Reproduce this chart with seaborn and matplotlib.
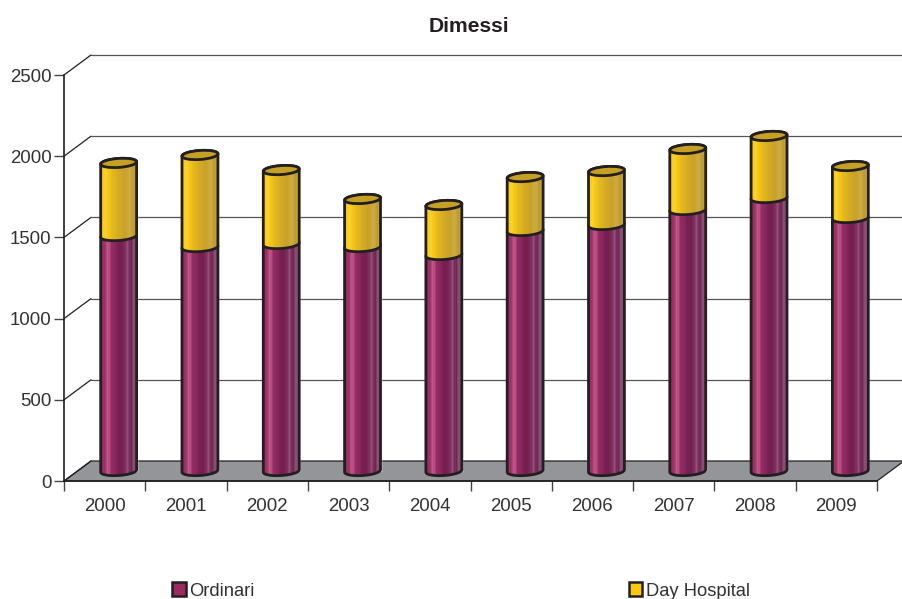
import matplotlib
matplotlib.use("Agg")
import matplotlib.pyplot as plt
from matplotlib.colors import LinearSegmentedColormap
from matplotlib.patches import Ellipse, Patch, PathPatch, Polygon
from matplotlib.path import Path
from matplotlib.transforms import Affine2D, IdentityTransform

import numpy as np
import pandas as pd
import seaborn as sns

# Values
years = ["2000", "2001", "2002", "2003", "2004", "2005", "2006", "2007", "2008", "2009"]
ordinari = [1447, 1379, 1398, 1379, 1330, 1478, 1515, 1607, 1681, 1558]
day_hospital = [450, 567, 455, 296, 308, 332, 332, 376, 382, 320]
y_ticks = [0, 500, 1000, 1500, 2000, 2500]

sns.set_theme(style="ticks")
plt.rcParams["font.family"] = ["Liberation Sans", "DejaVu Sans"]

INK = "#231f20"
TEXT = "#333132"
WIDTH, HEIGHT = 902, 599
DEPTH_X, DEPTH_Y = 27, 20
SHIFT_X, SHIFT_Y = 14, 10
ELLIPSE_H, TILT = 9, 4

maroon_map = LinearSegmentedColormap.from_list(
    "maroon", ["#8e2860", "#a03368", "#c25a8c", "#962c66", "#8a2a5e", "#7b2155", "#74204f", "#7a2656",
               "#94507a", "#6e2350", "#8f5478", "#7a3a60"])
yellow_map = LinearSegmentedColormap.from_list(
    "yellow", ["#f2c414", "#ffd528", "#f0c21a", "#e2b71f", "#d8ae24", "#cfa626", "#c9a22a", "#d0ad45",
               "#bd9a2c", "#c8a848"])
strip = np.linspace(0, 1, 30).reshape(1, -1)

df = pd.DataFrame({"year": years, "ordinari": ordinari, "day_hospital": day_hospital})
df["totale"] = df["ordinari"] + df["day_hospital"]

fig = plt.figure(figsize=(WIDTH / 100, HEIGHT / 100), dpi=100)
ax = fig.add_axes([64 / WIDTH, 1 - 481 / HEIGHT, 813 / WIDTH, 406 / HEIGHT])

# totals behind, ordinari in front, so the top part shows as the stack
sns.barplot(data=df, x="year", y="totale", color="#d8ae24", width=0.443, saturation=1, ax=ax, zorder=3)
sns.barplot(data=df, x="year", y="ordinari", color="#8c2760", width=0.443, saturation=1, ax=ax, zorder=3)

ax.set_xlim(-0.5, 9.5)
ax.set_ylim(0, 2500)
ax.set_xlabel("")
ax.set_ylabel("")
ax.set_yticks(y_ticks)
ax.set_xticks(range(len(years)), years)
ax.set_xticks(np.arange(-0.5, 10), minor=True)
ax.tick_params(axis="x", which="major", length=0, pad=12, labelsize=13.4, labelcolor=TEXT)
ax.tick_params(axis="x", which="minor", length=7, width=1, color="#444444")
ax.tick_params(axis="y", length=7, width=1, color="#444444", pad=2, labelsize=13.4, labelcolor=TEXT)
for side in ["top", "right"]:
    ax.spines[side].set_visible(False)
for side in ["left", "bottom"]:
    ax.spines[side].set_color(INK)
    ax.spines[side].set_linewidth(1.2)

pixel = IdentityTransform()
x0, y0 = ax.transData.transform((-0.5, 0))
x1, _ = ax.transData.transform((9.5, 0))

# floor of the 3D box
floor = Polygon([(x0, y0), (x0 + DEPTH_X, y0 + DEPTH_Y), (x1 + DEPTH_X, y0 + DEPTH_Y), (x1, y0)],
                closed=True, transform=pixel, facecolor="#939598", edgecolor=INK, linewidth=0.9,
                zorder=1, clip_on=False)
ax.add_patch(floor)

# back wall grid and the slanted side lines
for tick in y_ticks:
    _, ty = ax.transData.transform((0, tick))
    ax.plot([x0, x0 + DEPTH_X], [ty, ty + DEPTH_Y], transform=pixel, color=INK, lw=0.9,
            zorder=1.5, clip_on=False)
    if tick > 0:
        ax.plot([x0 + DEPTH_X, x1 + DEPTH_X], [ty + DEPTH_Y] * 2, transform=pixel, color="#555555",
                lw=0.9, zorder=1.5, clip_on=False)

shift = ax.transData + Affine2D().translate(SHIFT_X, SHIFT_Y)


def arc_points(cx, cy, w, start, stop):
    t = np.radians(np.linspace(start, stop, 40))
    px = w / 2 * np.cos(t)
    py = ELLIPSE_H / 2 * np.sin(t)
    a = np.radians(TILT)
    return np.column_stack([cx + px * np.cos(a) - py * np.sin(a), cy + px * np.sin(a) + py * np.cos(a)])


def draw_body(bar, cmap, z):
    # turns one flat seaborn bar into a cylinder section
    bar.set_transform(shift)
    bar.set_clip_on(False)
    x, y = bar.get_x(), bar.get_y()
    (left, low), (right, high) = shift.transform([(x, y), (x + bar.get_width(), y + bar.get_height())])
    w, cx = right - left, (left + right) / 2
    lower = arc_points(cx, low, w, 180, 360)
    upper = arc_points(cx, high, w, 0, 180)
    points = np.vstack([lower, upper, lower[:1]])
    outline = PathPatch(Path(points, closed=True), transform=pixel, facecolor="none", edgecolor=INK,
                        linewidth=2, zorder=z + 0.2, clip_on=False)
    ax.add_patch(outline)
    image = ax.imshow(strip, cmap=cmap, aspect="auto", interpolation="nearest", transform=pixel,
                      extent=(left, right, low - ELLIPSE_H, high + ELLIPSE_H), zorder=z)
    image.set_clip_path(outline)
    return cx, high, w


n = len(years)
total_bars = ax.patches[:n]
ordinari_bars = ax.patches[n:2 * n]
for bar_o, bar_t, value_o in zip(ordinari_bars, total_bars, ordinari):
    draw_body(bar_o, maroon_map, 3.5)
    bar_t.set_y(value_o)
    bar_t.set_height(bar_t.get_height() - value_o)
    cx, top, w = draw_body(bar_t, yellow_map, 4)
    ax.add_patch(Ellipse((cx, top), w, ELLIPSE_H, angle=TILT, transform=pixel, facecolor="#c6a024",
                         edgecolor=INK, linewidth=2, zorder=4.5, clip_on=False))

ax.set_xlim(-0.5, 9.5)
ax.set_ylim(0, 2500)

fig.text(468.5 / WIDTH, 1 - 26 / HEIGHT, "Dimessi", ha="center", va="center", fontsize=15.2,
         fontweight="bold", color=INK)

handles = [Patch(facecolor="#9b2a63", edgecolor=INK, linewidth=1.8, label="Ordinari"),
           Patch(facecolor="#fcc80f", edgecolor=INK, linewidth=1.8, label="Day Hospital")]
fig.legend(handles=handles, ncol=2, frameon=False, loc="center", bbox_to_anchor=(461 / WIDTH, 1 - 591 / HEIGHT),
           fontsize=13.2, labelcolor=TEXT, handlelength=0.75, handleheight=0.75, handletextpad=0.2,
           columnspacing=20.4, borderpad=0, borderaxespad=0)

fig.savefig("out.png", dpi=100)
plt.close(fig)
